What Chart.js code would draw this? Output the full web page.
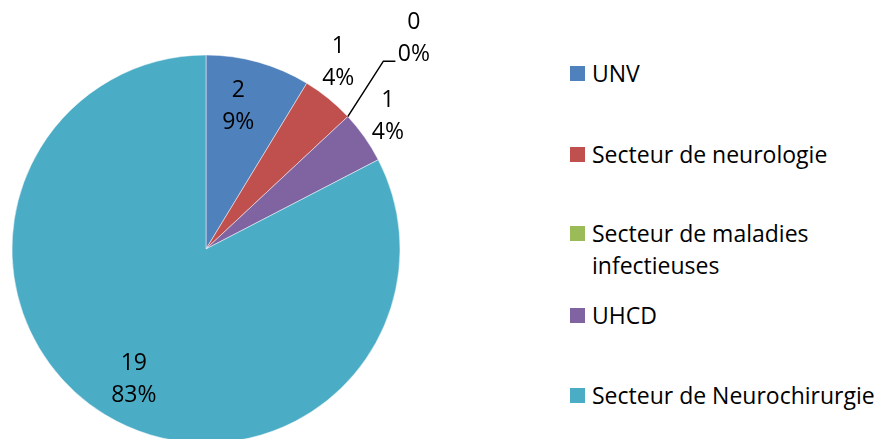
<!DOCTYPE html>
<html lang="fr">
  <head>
    <meta charset="UTF-8" />
    <title>Répartition par secteur</title>
    <script src="https://cdn.jsdelivr.net/npm/chart.js@4.4.1/dist/chart.umd.min.js"></script>
    <style>
      html, body { margin: 0; padding: 0; background: #fff; overflow: hidden; }
      body { width: 881px; height: 439px; position: relative; font-family: "Open Sans", sans-serif; }
      #pieBox { position: absolute; left: 0; top: 0; width: 560px; height: 498px; }
      #legend { position: absolute; left: 0; top: 0; }
      .item { position: absolute; left: 592px; font-size: 23px; line-height: 32px; color: #000; white-space: nowrap; }
      .box { position: absolute; left: -22px; top: 9px; width: 15px; height: 15px; }
    </style>
  </head>
  <body>
    <div id="pieBox"><canvas id="pie"></canvas></div>
    <div id="legend"></div>

    <script>
      const labels = [
        "UNV",
        "Secteur de neurologie",
        ["Secteur de maladies", "infectieuses"],
        "UHCD",
        "Secteur de Neurochirurgie",
      ];
      const counts = [2, 1, 0, 1, 19];
      const percents = ["9%", "4%", "0%", "4%", "83%"];

      const colors = ["#4F81BD", "#C0504D", "#9BBB59", "#8064A2", "#4BACC6"];

      // label placement: radius factor and angle nudge (deg) per slice
      const labelRadius = [0.76, 1.185, 1.53, 1.165, 0.76];
      const labelNudge = [-3, -4, -2.5, -1.2, -2];
      const legendTops = [57, 138, 217, 299, 379];

      // legend (html)
      const legend = document.querySelector("#legend");
      labels.forEach((lab, i) => {
        const div = document.createElement("div");
        div.className = "item";
        div.style.top = legendTops[i] + "px";
        div.innerHTML =
          `<span class="box" style="background:${colors[i]}"></span>` +
          [].concat(lab).join("<br>");
        legend.appendChild(div);
      });

      const pieLabels = {
        id: "pieLabels",
        afterDatasetsDraw(chart) {
          const ctx = chart.ctx;
          const meta = chart.getDatasetMeta(0);
          ctx.save();
          ctx.font = '23px "Open Sans"';
          ctx.fillStyle = "#000";
          ctx.textAlign = "center";
          ctx.textBaseline = "alphabetic";
          meta.data.forEach((arc, i) => {
            const { x, y, startAngle, endAngle, outerRadius } = arc.getProps(
              ["x", "y", "startAngle", "endAngle", "outerRadius"],
              true
            );
            const mid = (startAngle + endAngle) / 2 + (labelNudge[i] * Math.PI) / 180;
            const r = outerRadius * labelRadius[i];
            const lx = x + Math.cos(mid) * r;
            const ly = y + Math.sin(mid) * r;
            ctx.fillText(String(counts[i]), lx, ly - 16 + 8);
            ctx.fillText(percents[i], lx, ly + 16 + 8);

            if (counts[i] === 0) {
              // leader line from the edge of the empty slice
              ctx.beginPath();
              ctx.strokeStyle = "#000";
              ctx.lineWidth = 1.5;
              ctx.moveTo(x + Math.cos(startAngle) * outerRadius, y + Math.sin(startAngle) * outerRadius);
              ctx.lineTo(lx - 30.5, ly + 24);
              ctx.lineTo(lx - 18.5, ly + 24);
              ctx.stroke();
            }
          });
          ctx.restore();
        },
      };

      new Chart(document.querySelector("#pie"), {
        type: "pie",
        data: {
          labels: labels.map((l) => [].concat(l).join(" ")),
          datasets: [
            {
              data: counts,
              backgroundColor: colors,
              borderColor: "rgba(255,255,255,0.6)",
              borderWidth: 0.8,
              radius: 194,
            },
          ],
        },
        options: {
          responsive: true,
          maintainAspectRatio: false,
          animation: false,
          layout: { padding: { left: 0, top: 0, bottom: 0, right: 148 } },
          plugins: {
            legend: { display: false },
            tooltip: { enabled: false },
          },
        },
        plugins: [pieLabels],
      });
    </script>
  </body>
</html>
